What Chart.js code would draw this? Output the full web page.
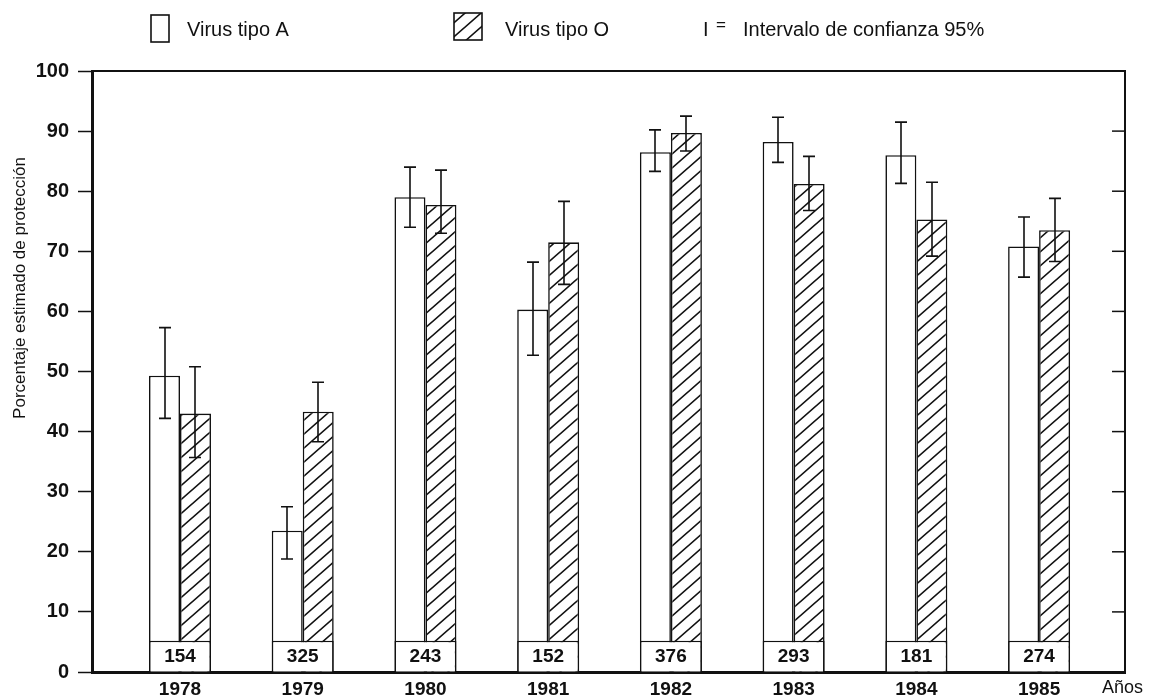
<!DOCTYPE html>
<html lang="es">
<head>
<meta charset="utf-8">
<title>Porcentaje estimado de protección</title>
<script src="https://cdn.jsdelivr.net/npm/chart.js@4.4.1/dist/chart.umd.min.js"></script>
<style>
  html, body { margin: 0; padding: 0; background: #fff; }
  #wrap { width: 1152px; height: 699px; position: relative; }
</style>
</head>
<body>
<div id="wrap"><canvas id="chartCanvas"></canvas></div>
<script>
// Datos
const years = [1978, 1979, 1980, 1981, 1982, 1983, 1984, 1985];
const virusA = [49.3, 23.5, 79.0, 60.3, 86.5, 88.2, 86.0, 70.8];
const virusALow = [42.2, 18.8, 74.0, 52.7, 83.3, 84.8, 81.3, 65.7];
const virusAHigh = [57.3, 27.5, 84.0, 68.2, 90.2, 92.3, 91.5, 75.7];
const virusO = [43.0, 43.3, 77.7, 71.5, 89.7, 81.2, 75.3, 73.5];
const virusOLow = [35.7, 38.3, 73.0, 64.5, 86.7, 76.8, 69.2, 68.3];
const virusOHigh = [50.8, 48.2, 83.5, 78.3, 92.5, 85.8, 81.5, 78.8];
const muestras = [154, 325, 243, 152, 376, 293, 181, 274];
const muestraTope = 5.2;   // alto de la casilla con el número de muestras

const FONT = '"Liberation Sans", Arial, sans-serif';
const INK = '#111';

// Rayado diagonal para el virus tipo O
function hatch() {
    const w = 16, h = 14;
    const c = document.createElement('canvas');
    c.width = w; c.height = h;
    const g = c.getContext('2d');
    g.fillStyle = '#fff';
    g.fillRect(0, 0, w, h);
    g.strokeStyle = INK;
    g.lineWidth = 1.6;
    g.beginPath();
    for (const dx of [-w, 0, w]) {
        g.moveTo(dx - 1, h + h / w);
        g.lineTo(dx + w + 1, -h / w);
    }
    g.stroke();
    return g.createPattern(c, 'repeat');
}
const rayado = hatch();

const pts = vals => years.map((x, i) => ({ x, y: vals[i] }));
const onlyYears = scale => { scale.ticks = years.map(v => ({ value: v })); };

// Error bars, casillas, marco y leyenda
const decor = {
    id: 'decor',
    afterDatasetsDraw(chart) {
        const { ctx, scales: { y } } = chart;
        ctx.save();
        ctx.strokeStyle = INK;
        ctx.lineWidth = 1.6;
        [[0, virusALow, virusAHigh], [1, virusOLow, virusOHigh]].forEach(([di, lo, hi]) => {
            chart.getDatasetMeta(di).data.forEach((bar, i) => {
                const x = Math.round(bar.x);
                const y1 = y.getPixelForValue(lo[i]);
                const y2 = y.getPixelForValue(hi[i]);
                ctx.beginPath();
                ctx.moveTo(x, y1); ctx.lineTo(x, y2);
                ctx.moveTo(x - 6, y1); ctx.lineTo(x + 6, y1);
                ctx.moveTo(x - 6, y2); ctx.lineTo(x + 6, y2);
                ctx.stroke();
            });
        });
        ctx.fillStyle = INK;
        ctx.font = 'bold 19px ' + FONT;
        ctx.textAlign = 'center';
        ctx.textBaseline = 'middle';
        chart.getDatasetMeta(2).data.forEach((bar, i) => {
            ctx.fillText(muestras[i], bar.x, (bar.y + bar.base) / 2 + 1);
        });
        ctx.restore();
    },
    afterDraw(chart) {
        const { ctx, chartArea: a, scales: { y } } = chart;
        ctx.save();
        ctx.strokeStyle = INK;
        ctx.fillStyle = INK;
        // marco superior y derecho
        ctx.lineWidth = 2;
        ctx.beginPath();
        ctx.moveTo(a.left, a.top); ctx.lineTo(a.right, a.top); ctx.lineTo(a.right, a.bottom);
        ctx.stroke();
        ctx.lineWidth = 1.5;
        y.ticks.forEach(t => {
            const p = y.getPixelForValue(t.value);
            ctx.beginPath();
            ctx.moveTo(a.right - 13, p); ctx.lineTo(a.right, p);
            ctx.stroke();
        });

        // título del eje y
        ctx.save();
        ctx.translate(20, 288);
        ctx.rotate(-Math.PI / 2);
        ctx.font = '17px ' + FONT;
        ctx.textAlign = 'center';
        ctx.textBaseline = 'middle';
        ctx.fillText('Porcentaje estimado de protección', 0, 0);
        ctx.restore();

        // Años
        ctx.font = '18px ' + FONT;
        ctx.textAlign = 'left';
        ctx.textBaseline = 'middle';
        ctx.fillText('Años', 1102, 688);

        // leyenda
        const ds = chart.data.datasets;
        ctx.lineWidth = 1.6;
        ctx.fillStyle = ds[0].backgroundColor;
        ctx.fillRect(151, 15, 18, 27);
        ctx.strokeRect(151, 15, 18, 27);
        ctx.fillStyle = ds[1].backgroundColor;
        ctx.fillRect(454, 13, 28, 27);
        ctx.strokeRect(454, 13, 28, 27);
        ctx.fillStyle = INK;
        ctx.font = '20px ' + FONT;
        ctx.fillText(ds[0].label, 187, 30);
        ctx.fillText(ds[1].label, 505, 30);
        ctx.fillText('I', 703, 30);
        ctx.font = '17px ' + FONT;
        ctx.fillText('=', 716, 25);
        ctx.font = '20px ' + FONT;
        ctx.fillText('Intervalo de confianza 95%', 743, 30);
        ctx.restore();
    }
};

const chart = new Chart(document.getElementById('chartCanvas'), {
    type: 'bar',
    data: {
        datasets: [
            {
                label: 'Virus tipo A',
                data: pts(virusA),
                backgroundColor: '#fff',
                borderColor: INK,
                borderWidth: 1.6,
                order: 2
            },
            {
                label: 'Virus tipo O',
                data: pts(virusO),
                backgroundColor: rayado,
                borderColor: INK,
                borderWidth: 1.6,
                order: 2
            },
            {
                label: 'Muestras',
                data: years.map(x => ({ x, y: muestraTope })),
                grouped: false,
                backgroundColor: '#fff',
                borderColor: INK,
                borderWidth: 1.6,
                order: 1
            }
        ]
    },
    options: {
        responsive: true,
        maintainAspectRatio: false,
        animation: false,
        layout: { padding: { top: 71, right: 27, left: 0, bottom: 0 } },
        datasets: {
            bar: { barPercentage: 1, categoryPercentage: 0.505 }
        },
        plugins: {
            legend: { display: false },
            tooltip: { enabled: false }
        },
        scales: {
            x: {
                type: 'linear',
                min: 1977.283,
                max: 1985.70,
                offset: false,
                afterBuildTicks: onlyYears,
                afterFit: s => { s.height = 27; },
                grid: { display: false, offset: false },
                border: { display: true, color: INK, width: 3 },
                ticks: {
                    color: INK,
                    font: { family: FONT, size: 19, weight: 'bold', lineHeight: 1 },
                    padding: 0,
                    maxRotation: 0,
                    callback: v => String(v)
                }
            },
            y: {
                min: 0,
                max: 100,
                afterFit: s => { s.width = 92; },
                grid: {
                    drawOnChartArea: false,
                    color: INK,
                    tickColor: INK,
                    tickLength: 14,
                    tickWidth: 1.5
                },
                border: { display: true, color: INK, width: 3 },
                ticks: {
                    stepSize: 10,
                    color: INK,
                    padding: 9,
                    font: { family: FONT, size: 20, weight: 'bold' }
                }
            }
        }
    },
    plugins: [decor]
});
</script>
</body>
</html>
